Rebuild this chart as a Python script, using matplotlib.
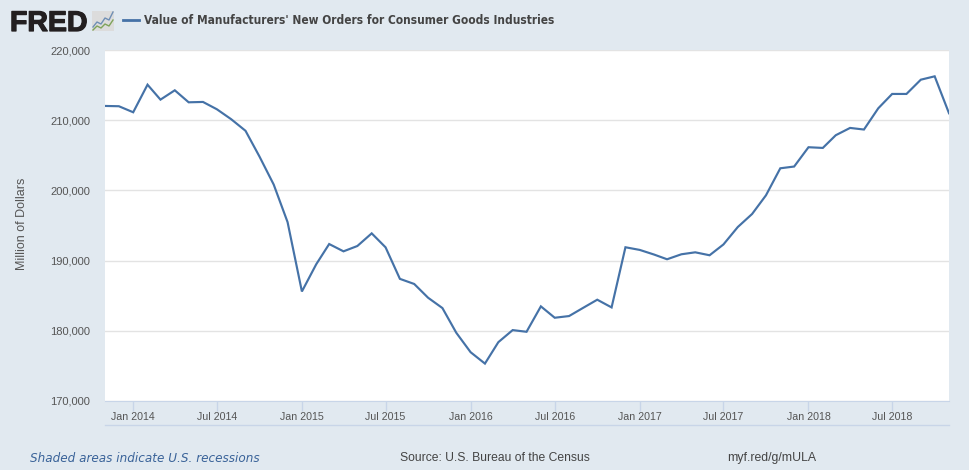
import pandas as pd
import matplotlib
matplotlib.use('Agg')
import matplotlib.pyplot as plt
import matplotlib.dates as mdates
import matplotlib.patheffects as pe
from matplotlib.patches import Rectangle
from matplotlib.lines import Line2D
from matplotlib.ticker import FuncFormatter

# monthly values, Nov 2013 to Nov 2018
dates = pd.date_range('2013-11-01', '2018-11-01', freq='MS')
values = [212030, 211990, 211130, 215060, 212930, 214260, 212550, 212600, 211560, 210140,
          208490, 204850, 200830, 195480, 185600, 189480, 192360, 191320, 192080, 193880,
          191890, 187400, 186670, 184710, 183240, 179720, 176950, 175330, 178380, 180100,
          179860, 183480, 181860, 182100, 183290, 184430, 183330, 191900, 191520, 190860,
          190190, 190900, 191180, 190760, 192300, 194780, 196640, 199300, 203150, 203400,
          206150, 206050, 207860, 208900, 208670, 211700, 213740, 213740, 215770, 216250,
          210990]
y_ticks = [170000, 180000, 190000, 200000, 210000, 220000]

title = "Value of Manufacturers' New Orders for Consumer Goods Industries"
ylabel = 'Million of Dollars'

W, H = 969, 470
BG = '#e1e9f0'
LINE = '#4572a7'
TXT = '#555555'
AXC = '#c8d5e8'

plt.rcParams['font.family'] = ['Liberation Sans', 'DejaVu Sans']

fig = plt.figure(figsize=(W / 100, H / 100), dpi=100, facecolor=BG)
ax = fig.add_axes([105 / W, 1 - 401 / H, 844 / W, 351 / H])
ax.plot(dates, values, color=LINE, lw=1.55, solid_joinstyle='miter', clip_on=True)

ax.set_xlim(dates[0], dates[-1])
ax.set_ylim(170000, 220000)
ax.set_yticks(y_ticks)
ax.yaxis.set_major_formatter(FuncFormatter(lambda v, p: f'{int(v):,}'))
ax.xaxis.set_major_locator(mdates.MonthLocator(bymonth=[1, 7]))
ax.xaxis.set_major_formatter(mdates.DateFormatter('%b %Y'))
ax.grid(axis='y', color='#e3e3e3', lw=1)
ax.set_axisbelow(True)
for s in ['top', 'left', 'right']:
    ax.spines[s].set_visible(False)
ax.spines['bottom'].set_color(AXC)
ax.tick_params(axis='y', length=0, labelsize=8, labelcolor=TXT, pad=10.8)
ax.tick_params(axis='x', length=7.5, width=1, color=AXC, labelsize=7.7, labelcolor=TXT, pad=0.5)
for lab in ax.get_yticklabels():
    lab.set_verticalalignment('center_baseline')

fig.text(22 / W, 1 - 224 / H, ylabel, rotation=90, ha='center', va='center', fontsize=9, color=TXT)

# lower border of the x axis band
fig.add_artist(Line2D([105 / W, 949 / W], [1 - 425 / H] * 2, color=AXC, lw=1))

# logo
fig.text(10 / W, 1 - 31 / H, 'FRED', fontsize=20.5, fontweight='bold', color='#231f20', ha='left', va='baseline',
         path_effects=[pe.withStroke(linewidth=0.9, foreground='#231f20')])
fig.add_artist(Rectangle((92 / W, 1 - 31 / H), 22 / W, 20.5 / H, facecolor='#dcdcdc', edgecolor='none'))
fig.add_artist(Line2D([(93 + i * 4) / W for i in range(6)],
                      [1 - p / H for p in [27, 22, 24, 18, 20, 12]], color='#6f8fb5', lw=1))
fig.add_artist(Line2D([(93 + i * 4) / W for i in range(6)],
                      [1 - p / H for p in [30, 26, 28, 24, 26, 20]], color='#7fa35a', lw=1))

# legend entry
fig.add_artist(Line2D([123 / W, 139 / W], [1 - 20 / H] * 2, color=LINE, lw=2))
fig.text(144 / W, 1 - 20 / H, title, fontsize=8.55, fontweight='bold', color='#444444',
         family=['DejaVu Sans'], stretch='condensed', ha='left', va='center')

# footer
fig.text(30 / W, 1 - 458 / H, 'Shaded areas indicate U.S. recessions', fontsize=8.66, style='italic',
         color='#3a6399', family=['DejaVu Sans'], ha='left', va='center')
fig.text(400 / W, 1 - 458 / H, 'Source: U.S. Bureau of the Census', fontsize=8.7, color='#444444', ha='left', va='center')
fig.text(727 / W, 1 - 458 / H, 'myf.red/g/mULA', fontsize=8.8, color='#444444', ha='left', va='center')

fig.savefig('out.png', dpi=100, facecolor=BG)
